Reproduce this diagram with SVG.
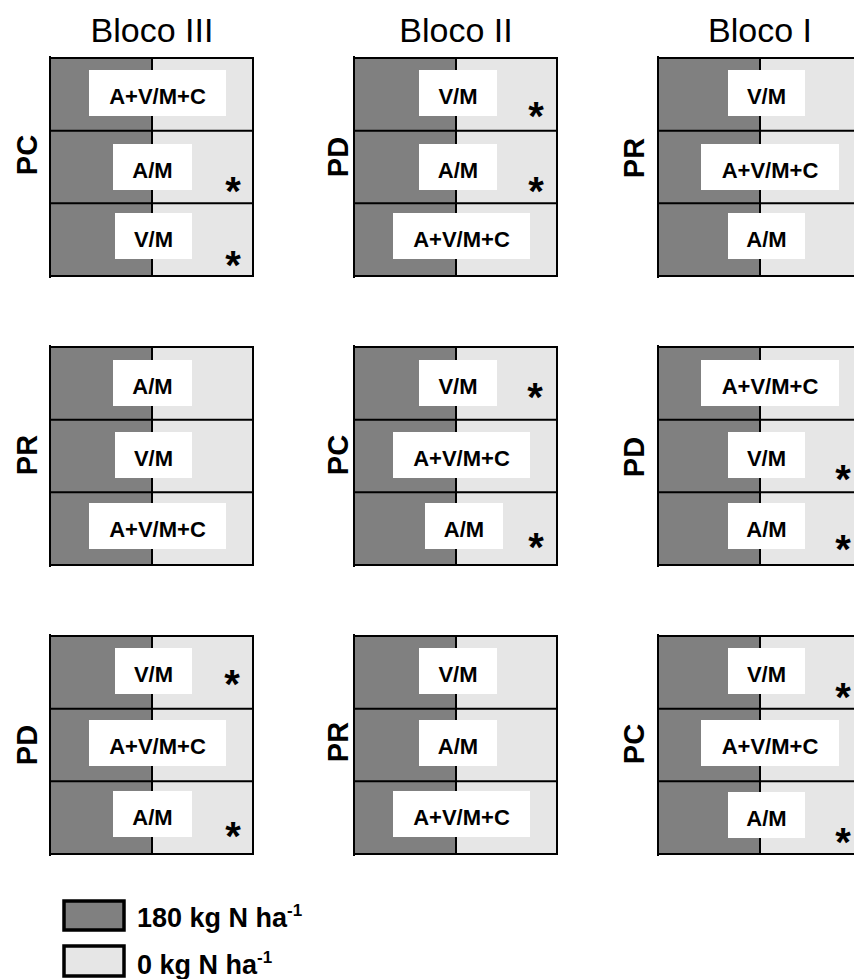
<svg xmlns="http://www.w3.org/2000/svg" width="854" height="979" viewBox="0 0 854 979">
<style>
.dk{fill:#808080}
.lt{fill:#e6e6e6}
.ln{stroke:#000;stroke-width:2;fill:none;stroke-linecap:square}
.bx{fill:#fff}
.lb{font-family:"Liberation Sans",Arial,sans-serif;font-weight:bold;font-size:22px;text-anchor:middle;fill:#000}
.st{font-family:"Liberation Sans",Arial,sans-serif;font-weight:bold;font-size:40px;text-anchor:middle;fill:#000}
.hd{font-family:"Liberation Sans",Arial,sans-serif;font-size:34px;text-anchor:middle;fill:#000}
.tr{font-family:"Liberation Sans",Arial,sans-serif;font-weight:bold;font-size:29px;text-anchor:middle;fill:#000}
.lg{font-family:"Liberation Sans",Arial,sans-serif;font-weight:bold;font-size:27px;fill:#000}
.sup{font-size:17px}
.lgb{stroke:#000;stroke-width:3.5}
</style>
<defs>
<g id="plot">
<rect class="dk" x="0" y="0" width="102" height="218"/>
<rect class="lt" x="102" y="0" width="101" height="218"/>
<path class="ln" d="M0,0H203M0,72.7H203M0,145.3H203M0,218H203M0,-1V219M102,0V218M203,0V218"/>
</g>
</defs>
<g id="headers">
<text class="hd" x="152" y="42">Bloco III</text>
<text class="hd" x="456" y="42">Bloco II</text>
<text class="hd" x="760" y="42">Bloco I</text>
</g>
<g id="plots">
<use href="#plot" x="50" y="58"/>
<use href="#plot" x="354" y="58"/>
<use href="#plot" x="658" y="58"/>
<use href="#plot" x="50" y="347"/>
<use href="#plot" x="354" y="347"/>
<use href="#plot" x="658" y="347"/>
<use href="#plot" x="50" y="636"/>
<use href="#plot" x="354" y="636"/>
<use href="#plot" x="658" y="636"/>
</g>
<g id="treatments">
<text class="tr" transform="translate(37,155) rotate(-90)">PC</text>
<text class="tr" transform="translate(348,157) rotate(-90)">PD</text>
<text class="tr" transform="translate(644,158) rotate(-90)">PR</text>
<text class="tr" transform="translate(37,455) rotate(-90)">PR</text>
<text class="tr" transform="translate(348,455) rotate(-90)">PC</text>
<text class="tr" transform="translate(644,457) rotate(-90)">PD</text>
<text class="tr" transform="translate(37,745) rotate(-90)">PD</text>
<text class="tr" transform="translate(348,742) rotate(-90)">PR</text>
<text class="tr" transform="translate(644,744) rotate(-90)">PC</text>
</g>
<g id="labels">
<rect class="bx" x="89" y="70" width="137" height="46"/><text class="lb" x="157.5" y="104">A+V/M+C</text>
<rect class="bx" x="113" y="144" width="79" height="46"/><text class="lb" x="152.5" y="178">A/M</text>
<rect class="bx" x="115" y="213" width="77" height="46"/><text class="lb" x="153.5" y="247">V/M</text>
<rect class="bx" x="419" y="70" width="78" height="46"/><text class="lb" x="458" y="104">V/M</text>
<rect class="bx" x="419" y="144" width="78" height="46"/><text class="lb" x="458" y="178">A/M</text>
<rect class="bx" x="393" y="213" width="137" height="46"/><text class="lb" x="461.5" y="247">A+V/M+C</text>
<rect class="bx" x="728" y="70" width="77" height="46"/><text class="lb" x="766.5" y="104">V/M</text>
<rect class="bx" x="701" y="144" width="138" height="46"/><text class="lb" x="770" y="178">A+V/M+C</text>
<rect class="bx" x="728" y="213" width="77" height="46"/><text class="lb" x="766.5" y="247">A/M</text>
<rect class="bx" x="113" y="360" width="79" height="46"/><text class="lb" x="152.5" y="394">A/M</text>
<rect class="bx" x="115" y="432" width="77" height="46"/><text class="lb" x="153.5" y="466">V/M</text>
<rect class="bx" x="89" y="503" width="137" height="46"/><text class="lb" x="157.5" y="537">A+V/M+C</text>
<rect class="bx" x="419" y="360" width="78" height="46"/><text class="lb" x="458" y="394">V/M</text>
<rect class="bx" x="393" y="432" width="137" height="46"/><text class="lb" x="461.5" y="466">A+V/M+C</text>
<rect class="bx" x="425" y="503" width="78" height="46"/><text class="lb" x="464" y="537">A/M</text>
<rect class="bx" x="701" y="360" width="138" height="46"/><text class="lb" x="770" y="394">A+V/M+C</text>
<rect class="bx" x="728" y="432" width="77" height="46"/><text class="lb" x="766.5" y="466">V/M</text>
<rect class="bx" x="728" y="503" width="77" height="46"/><text class="lb" x="766.5" y="537">A/M</text>
<rect class="bx" x="115" y="648" width="77" height="46"/><text class="lb" x="153.5" y="682">V/M</text>
<rect class="bx" x="89" y="720" width="137" height="46"/><text class="lb" x="157.5" y="754">A+V/M+C</text>
<rect class="bx" x="113" y="791" width="79" height="46"/><text class="lb" x="152.5" y="825">A/M</text>
<rect class="bx" x="419" y="648" width="78" height="46"/><text class="lb" x="458" y="682">V/M</text>
<rect class="bx" x="419" y="720" width="78" height="46"/><text class="lb" x="458" y="754">A/M</text>
<rect class="bx" x="393" y="791" width="137" height="46"/><text class="lb" x="461.5" y="825">A+V/M+C</text>
<rect class="bx" x="728" y="648" width="77" height="46"/><text class="lb" x="766.5" y="682">V/M</text>
<rect class="bx" x="701" y="720" width="138" height="46"/><text class="lb" x="770" y="754">A+V/M+C</text>
<rect class="bx" x="728" y="792" width="77" height="46"/><text class="lb" x="766.5" y="826">A/M</text>
</g>
<g id="asterisks">
<text class="st" x="233" y="205">*</text>
<text class="st" x="233" y="279">*</text>
<text class="st" x="536" y="130">*</text>
<text class="st" x="536" y="205">*</text>
<text class="st" x="535" y="411">*</text>
<text class="st" x="536" y="561">*</text>
<text class="st" x="843" y="493">*</text>
<text class="st" x="843" y="563">*</text>
<text class="st" x="232" y="698">*</text>
<text class="st" x="233" y="850">*</text>
<text class="st" x="843" y="711">*</text>
<text class="st" x="843" y="856">*</text>
</g>
<g id="legend">
<rect class="dk lgb" x="64" y="901" width="60" height="29"/>
<text class="lg" x="137" y="927">180 kg N ha<tspan class="sup" dy="-11">-1</tspan></text>
<rect class="lt lgb" x="64" y="946" width="60" height="30"/>
<text class="lg" x="137" y="974">0 kg N ha<tspan class="sup" dy="-11">-1</tspan></text>
</g>
</svg>
